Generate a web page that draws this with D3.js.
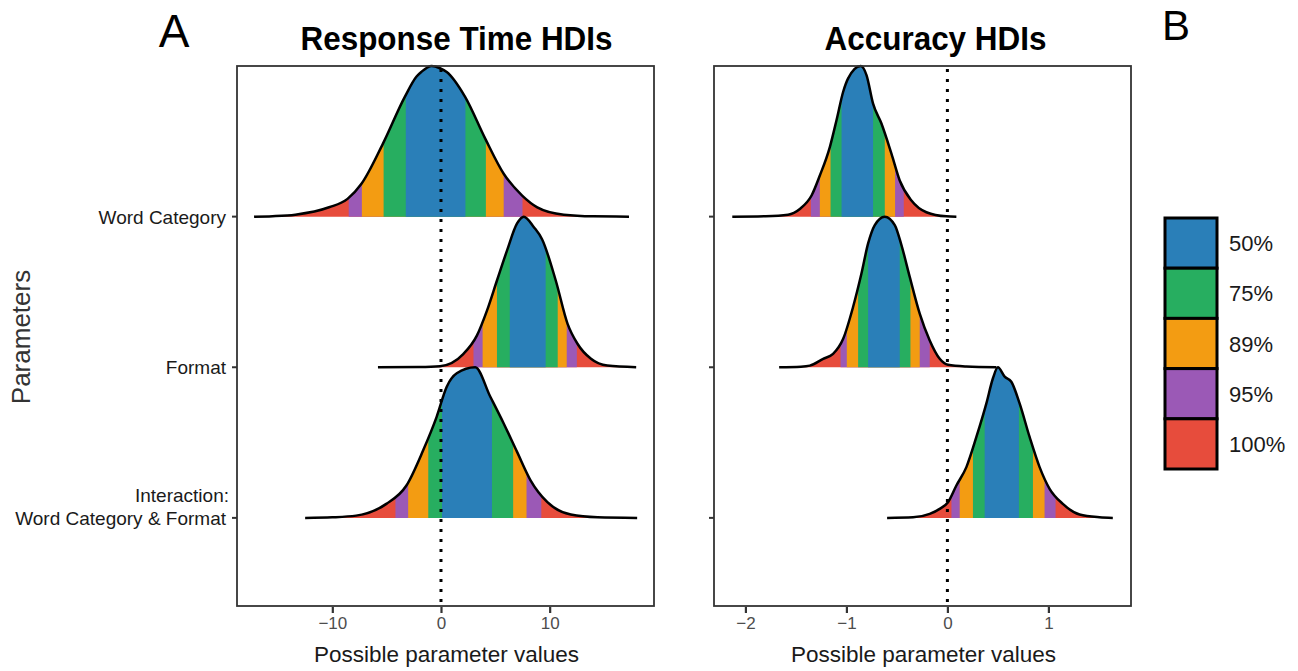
<!DOCTYPE html>
<html>
<head>
<meta charset="utf-8">
<script src="https://cdn.jsdelivr.net/npm/d3@7"></script>
<style>
body { margin: 0; background: #fff; }
text { font-family: "Liberation Sans", Arial, sans-serif; }
</style>
</head>
<body>
<div id="chart"></div>
<script>
var width = 1298;
var height = 671;

// parameters, top to bottom
const params = ["Word Category", "Format", "Interaction: Word Category & Format"];
const levels = ["50%", "75%", "89%", "95%", "100%"];
const levelColors = ["#2a7fb8", "#27ae60", "#f39c12", "#9b59b6", "#e74c3c"];

// density curves: [value, relative height]
const rtCurves = [
  [[-17.2,0],[-15.5,0.003],[-13.4,0.013],[-10.3,0.062],[-8.6,0.118],[-7.3,0.22],[-5.34,0.485],[-3.33,0.795],[-2.25,0.93],[-1.79,0.962],[-0.86,1],[-0.09,0.985],[0.53,0.96],[2.22,0.795],[4.07,0.518],[5.77,0.285],[7.47,0.14],[8.86,0.062],[11.3,0.013],[14,0.002],[17.3,0]],
  [[-5.8,0],[-2,0.002],[-0.09,0.007],[2.07,0.089],[3.3,0.21],[4.23,0.376],[5.15,0.576],[6.08,0.776],[7.0,0.955],[7.62,1],[8.55,0.93],[9.3,0.85],[10.56,0.576],[11.64,0.29],[12.56,0.156],[13.8,0.056],[15.3,0.011],[17.96,0]],
  [[-12.5,0],[-10,0.004],[-7.81,0.015],[-5.03,0.093],[-3.18,0.215],[-1.64,0.449],[-0.4,0.671],[0.53,0.871],[1.45,0.96],[3.15,1],[4.54,0.804],[5.77,0.627],[7.0,0.438],[8.24,0.249],[9.79,0.104],[11.94,0.022],[14.4,0.004],[18.05,0]]
];
const accCurves = [
  [[-2.13,0],[-1.8,0.003],[-1.577,0.013],[-1.461,0.051],[-1.345,0.14],[-1.263,0.273],[-1.164,0.462],[-1.098,0.64],[-1.032,0.829],[-0.983,0.918],[-0.858,1],[-0.801,0.94],[-0.736,0.75],[-0.653,0.618],[-0.554,0.418],[-0.472,0.24],[-0.356,0.107],[-0.208,0.029],[-0.01,0.002],[0.089,0]],
  [[-1.666,0],[-1.45,0.004],[-1.362,0.011],[-1.23,0.056],[-1.132,0.089],[-1.032,0.189],[-0.934,0.4],[-0.851,0.622],[-0.785,0.822],[-0.719,0.944],[-0.62,1],[-0.521,0.944],[-0.455,0.811],[-0.373,0.6],[-0.274,0.356],[-0.175,0.178],[-0.076,0.056],[0.006,0.016],[0.188,0.005],[0.485,0]],
  [[-0.597,0],[-0.34,0.004],[-0.175,0.027],[-0.076,0.06],[0.006,0.104],[0.089,0.215],[0.188,0.337],[0.287,0.537],[0.386,0.76],[0.451,0.927],[0.5,1],[0.567,0.938],[0.633,0.904],[0.715,0.76],[0.814,0.537],[0.913,0.337],[1.012,0.193],[1.143,0.093],[1.309,0.022],[1.506,0.004],[1.638,0]]
];

// HDI bounds per parameter: [50%, 75%, 89%, 95%] as [low, high]
const rtHdi = [
  [[-3.24,2.25],[-5.28,4.13],[-7.28,5.77],[-8.49,7.5]],
  [[6.33,9.63],[5.15,10.74],[3.83,11.57],[2.99,12.5]],
  [[0.09,4.69],[-1.17,6.64],[-3.02,7.87],[-4.19,9.23]]
];
const accHdi = [
  [[-1.048,-0.736],[-1.157,-0.62],[-1.263,-0.518],[-1.352,-0.432]],
  [[-0.785,-0.472],[-0.884,-0.366],[-0.996,-0.274],[-1.058,-0.175]],
  [[0.369,0.708],[0.253,0.847],[0.122,0.962],[0.04,1.071]]
];

const rtTicks = [-10, 0, 10];
const accTicks = [-2, -1, 0, 1];

var svg = d3.select("#chart").append("svg")
  .attr("width", width)
  .attr("height", height);

var defs = svg.append("defs");

var panelTop = 66, panelBottom = 606;
var y = d3.scaleLinear().domain([-1, 2.585]).range([panelTop, panelBottom]);

function drawPanel(id, left, right, domain, curves, hdis, ticks, title) {
  var x = d3.scaleLinear().domain(domain).range([left, right]);
  var g = svg.append("g").attr("class", "panel-" + id);

  curves.forEach(function(pts, i) {
    var base = y(i);
    var ar = d3.area()
      .curve(d3.curveMonotoneX)
      .x(d => x(d[0]))
      .y0(base)
      .y1(d => y(i - d[1]));
    var ln = d3.line()
      .curve(d3.curveMonotoneX)
      .x(d => x(d[0]))
      .y(d => y(i - d[1]));

    var cid = "clip-" + id + "-" + i;
    defs.append("clipPath").attr("id", cid)
      .append("path").attr("d", ar(pts));

    var rg = g.append("g").attr("clip-path", "url(#" + cid + ")");
    var lo = pts[0][0], hi = pts[pts.length - 1][0];
    // widest band first, then narrower ones on top
    var bands = [[lo, hi]].concat(hdis[i].slice().reverse());
    var cols = levelColors.slice().reverse();
    rg.selectAll("rect")
      .data(bands)
      .enter().append("rect")
      .attr("x", d => x(d[0]))
      .attr("width", d => x(d[1]) - x(d[0]))
      .attr("y", y(i - 1.05))
      .attr("height", base - y(i - 1.05) + 1)
      .attr("fill", (d, k) => cols[k]);

    g.append("path")
      .attr("d", ln(pts))
      .attr("fill", "none")
      .attr("stroke", "#000")
      .attr("stroke-width", 2.5)
      .attr("stroke-linejoin", "round");
  });

  // zero reference
  g.append("line")
    .attr("x1", x(0)).attr("x2", x(0))
    .attr("y1", panelTop + 3).attr("y2", panelBottom)
    .attr("stroke", "#000")
    .attr("stroke-width", 3)
    .attr("stroke-dasharray", "3,7");

  g.append("rect")
    .attr("x", left).attr("y", panelTop)
    .attr("width", right - left).attr("height", panelBottom - panelTop)
    .attr("fill", "none")
    .attr("stroke", "#333")
    .attr("stroke-width", 1.8);

  var xa = g.append("g")
    .attr("transform", "translate(0," + (panelBottom + 1) + ")")
    .call(d3.axisBottom(x).tickValues(ticks).tickFormat(d3.format("d")).tickSize(6).tickPadding(4));
  xa.select(".domain").remove();
  xa.selectAll(".tick line").attr("stroke", "#333").attr("stroke-width", 2.2);
  xa.selectAll(".tick text")
    .attr("fill", "#4d4d4d")
    .style("font-size", "17px")
    .style("font-family", "'Liberation Sans', Arial, sans-serif");

  // y ticks
  g.selectAll(".ytick")
    .data(params)
    .enter().append("line")
    .attr("x1", left - 5).attr("x2", left)
    .attr("y1", (d, i) => y(i)).attr("y2", (d, i) => y(i))
    .attr("stroke", "#333").attr("stroke-width", 2);

  g.append("text")
    .attr("x", (left + right) / 2 + 1)
    .attr("y", 662)
    .attr("text-anchor", "middle")
    .attr("fill", "#1a1a1a")
    .style("font-size", "22.5px")
    .text("Possible parameter values");

  g.append("text")
    .attr("x", (left + right) / 2 + title.dx)
    .attr("y", 50)
    .attr("text-anchor", "middle")
    .attr("textLength", title.len)
    .attr("lengthAdjust", "spacingAndGlyphs")
    .attr("fill", "#000")
    .style("font-size", "34px")
    .style("font-weight", "bold")
    .text(title.text);
}

drawPanel("rt", 237, 654, [-18.77, 19.6], rtCurves, rtHdi, rtTicks,
  { text: "Response Time HDIs", len: 312, dx: 11 });
drawPanel("acc", 714, 1131, [-2.311, 1.818], accCurves, accHdi, accTicks,
  { text: "Accuracy HDIs", len: 222, dx: 13 });

// y labels (left panel only)
var labels = svg.append("g");
params.forEach(function(p, i) {
  var t = labels.append("text")
    .attr("text-anchor", "end")
    .attr("fill", "#1a1a1a")
    .style("font-size", "19px");
  if (p.indexOf(":") > -1) {
    var parts = p.split(": ");
    t.append("tspan").attr("x", 229).attr("y", y(i) - 16).text(parts[0] + ":");
    t.append("tspan").attr("x", 226).attr("y", y(i) + 7).text(parts[1]);
  } else {
    t.attr("x", 226).attr("y", y(i) + 7).text(p);
  }
});

svg.append("text")
  .attr("transform", "translate(30,337) rotate(-90)")
  .attr("text-anchor", "middle")
  .attr("fill", "#333")
  .style("font-size", "26px")
  .text("Parameters");

// panel letters
svg.append("text").attr("x", 174).attr("y", 47).attr("text-anchor", "middle")
  .style("font-size", "46px").attr("fill", "#000").text("A");
svg.append("text").attr("x", 1176).attr("y", 40).attr("text-anchor", "middle")
  .style("font-size", "42px").attr("fill", "#000").text("B");

// legend
var ly = d3.scaleBand().domain(levels).range([218, 469]);
var leg = svg.append("g");
leg.selectAll("rect")
  .data(levels)
  .enter().append("rect")
  .attr("x", 1165)
  .attr("y", d => ly(d))
  .attr("width", 52)
  .attr("height", ly.bandwidth())
  .attr("fill", (d, i) => levelColors[i])
  .attr("stroke", "#000")
  .attr("stroke-width", 3);
leg.selectAll("text")
  .data(levels)
  .enter().append("text")
  .attr("x", 1229)
  .attr("y", d => ly(d) + ly.bandwidth() / 2 + 8)
  .attr("fill", "#1a1a1a")
  .style("font-size", "22px")
  .text(d => d);
</script>
</body>
</html>
